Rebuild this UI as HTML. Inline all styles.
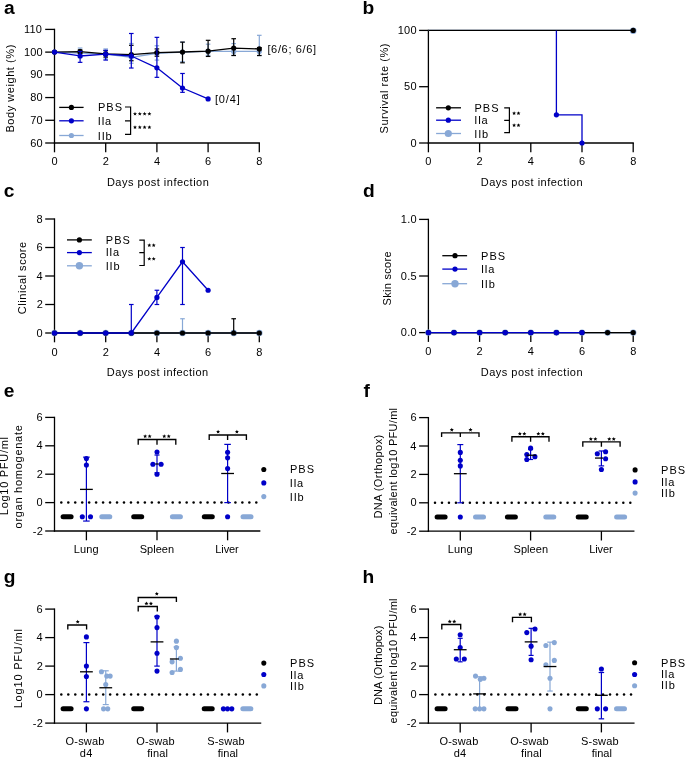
<!DOCTYPE html>
<html><head><meta charset="utf-8"><style>
html,body{margin:0;padding:0;background:#fff;width:685px;height:758px;overflow:hidden}
svg{display:block;will-change:transform}
text{font-family:"Liberation Sans", sans-serif}
</style></head><body>
<svg width="685" height="758" viewBox="0 0 685 758">
<text x="3.94" y="14" font-size="19.2" font-weight="bold">a</text>
<line x1="54.5" y1="28.75" x2="54.5" y2="143.65" stroke="#000" stroke-width="1.3"/>
<line x1="45.2" y1="29.4" x2="54.5" y2="29.4" stroke="#000" stroke-width="1.3"/>
<text x="23.88" y="33.05" font-size="11" letter-spacing="0.2">110</text>
<line x1="45.2" y1="52.12" x2="54.5" y2="52.12" stroke="#000" stroke-width="1.3"/>
<text x="23.88" y="55.77" font-size="11" letter-spacing="0.2">100</text>
<line x1="45.2" y1="74.84" x2="54.5" y2="74.84" stroke="#000" stroke-width="1.3"/>
<text x="30.19" y="78.49" font-size="11" letter-spacing="0.2">90</text>
<line x1="45.2" y1="97.56" x2="54.5" y2="97.56" stroke="#000" stroke-width="1.3"/>
<text x="30.19" y="101.21" font-size="11" letter-spacing="0.2">80</text>
<line x1="45.2" y1="120.28" x2="54.5" y2="120.28" stroke="#000" stroke-width="1.3"/>
<text x="30.19" y="123.93" font-size="11" letter-spacing="0.2">70</text>
<line x1="45.2" y1="143" x2="54.5" y2="143" stroke="#000" stroke-width="1.3"/>
<text x="30.19" y="146.65" font-size="11" letter-spacing="0.2">60</text>
<line x1="53.85" y1="143" x2="259.95" y2="143" stroke="#000" stroke-width="1.3"/>
<line x1="54.5" y1="143" x2="54.5" y2="152.3" stroke="#000" stroke-width="1.3"/>
<text x="51.44" y="164.8" font-size="11" letter-spacing="0.2">0</text>
<line x1="105.7" y1="143" x2="105.7" y2="152.3" stroke="#000" stroke-width="1.3"/>
<text x="102.64" y="164.8" font-size="11" letter-spacing="0.2">2</text>
<line x1="156.9" y1="143" x2="156.9" y2="152.3" stroke="#000" stroke-width="1.3"/>
<text x="153.88" y="164.8" font-size="11" letter-spacing="0.2">4</text>
<line x1="208.1" y1="143" x2="208.1" y2="152.3" stroke="#000" stroke-width="1.3"/>
<text x="205" y="164.8" font-size="11" letter-spacing="0.2">6</text>
<line x1="259.3" y1="143" x2="259.3" y2="152.3" stroke="#000" stroke-width="1.3"/>
<text x="256.24" y="164.8" font-size="11" letter-spacing="0.2">8</text>
<line x1="80.1" y1="48.03" x2="80.1" y2="57.57" stroke="#88a8d6" stroke-width="1.2"/>
<line x1="77.8" y1="48.03" x2="82.4" y2="48.03" stroke="#88a8d6" stroke-width="1.2"/>
<line x1="77.8" y1="57.57" x2="82.4" y2="57.57" stroke="#88a8d6" stroke-width="1.2"/>
<line x1="105.7" y1="48.94" x2="105.7" y2="58.94" stroke="#88a8d6" stroke-width="1.2"/>
<line x1="103.4" y1="48.94" x2="108" y2="48.94" stroke="#88a8d6" stroke-width="1.2"/>
<line x1="103.4" y1="58.94" x2="108" y2="58.94" stroke="#88a8d6" stroke-width="1.2"/>
<line x1="131.3" y1="43.49" x2="131.3" y2="63.25" stroke="#88a8d6" stroke-width="1.2"/>
<line x1="129" y1="43.49" x2="133.6" y2="43.49" stroke="#88a8d6" stroke-width="1.2"/>
<line x1="129" y1="63.25" x2="133.6" y2="63.25" stroke="#88a8d6" stroke-width="1.2"/>
<line x1="156.9" y1="45.76" x2="156.9" y2="60.07" stroke="#88a8d6" stroke-width="1.2"/>
<line x1="154.6" y1="45.76" x2="159.2" y2="45.76" stroke="#88a8d6" stroke-width="1.2"/>
<line x1="154.6" y1="60.07" x2="159.2" y2="60.07" stroke="#88a8d6" stroke-width="1.2"/>
<line x1="182.5" y1="42.12" x2="182.5" y2="61.66" stroke="#88a8d6" stroke-width="1.2"/>
<line x1="180.2" y1="42.12" x2="184.8" y2="42.12" stroke="#88a8d6" stroke-width="1.2"/>
<line x1="180.2" y1="61.66" x2="184.8" y2="61.66" stroke="#88a8d6" stroke-width="1.2"/>
<line x1="208.1" y1="44.17" x2="208.1" y2="55.3" stroke="#88a8d6" stroke-width="1.2"/>
<line x1="205.8" y1="44.17" x2="210.4" y2="44.17" stroke="#88a8d6" stroke-width="1.2"/>
<line x1="205.8" y1="55.3" x2="210.4" y2="55.3" stroke="#88a8d6" stroke-width="1.2"/>
<line x1="233.7" y1="43.6" x2="233.7" y2="55.3" stroke="#88a8d6" stroke-width="1.2"/>
<line x1="231.4" y1="43.6" x2="236" y2="43.6" stroke="#88a8d6" stroke-width="1.2"/>
<line x1="231.4" y1="55.3" x2="236" y2="55.3" stroke="#88a8d6" stroke-width="1.2"/>
<line x1="259.3" y1="35.31" x2="259.3" y2="55.53" stroke="#88a8d6" stroke-width="1.2"/>
<line x1="257" y1="35.31" x2="261.6" y2="35.31" stroke="#88a8d6" stroke-width="1.2"/>
<line x1="257" y1="55.53" x2="261.6" y2="55.53" stroke="#88a8d6" stroke-width="1.2"/>
<polyline points="54.5,52.12 80.1,53.03 105.7,54.16 131.3,57.35 156.9,53.26 182.5,52.12 208.1,51.44 233.7,51.44 259.3,51.44" fill="none" stroke="#88a8d6" stroke-width="1.3" stroke-linejoin="round"/>
<circle cx="54.5" cy="52.12" r="2.6" fill="#88a8d6"/>
<circle cx="80.1" cy="53.03" r="2.6" fill="#88a8d6"/>
<circle cx="105.7" cy="54.16" r="2.6" fill="#88a8d6"/>
<circle cx="131.3" cy="57.35" r="2.6" fill="#88a8d6"/>
<circle cx="156.9" cy="53.26" r="2.6" fill="#88a8d6"/>
<circle cx="182.5" cy="52.12" r="2.6" fill="#88a8d6"/>
<circle cx="208.1" cy="51.44" r="2.6" fill="#88a8d6"/>
<circle cx="233.7" cy="51.44" r="2.6" fill="#88a8d6"/>
<circle cx="259.3" cy="51.44" r="2.6" fill="#88a8d6"/>
<line x1="80.1" y1="49.85" x2="80.1" y2="53.48" stroke="#000" stroke-width="1.2"/>
<line x1="77.8" y1="49.85" x2="82.4" y2="49.85" stroke="#000" stroke-width="1.2"/>
<line x1="77.8" y1="53.48" x2="82.4" y2="53.48" stroke="#000" stroke-width="1.2"/>
<line x1="105.7" y1="50.76" x2="105.7" y2="57.12" stroke="#000" stroke-width="1.2"/>
<line x1="103.4" y1="50.76" x2="108" y2="50.76" stroke="#000" stroke-width="1.2"/>
<line x1="103.4" y1="57.12" x2="108" y2="57.12" stroke="#000" stroke-width="1.2"/>
<line x1="131.3" y1="45.3" x2="131.3" y2="60.75" stroke="#000" stroke-width="1.2"/>
<line x1="129" y1="45.3" x2="133.6" y2="45.3" stroke="#000" stroke-width="1.2"/>
<line x1="129" y1="60.75" x2="133.6" y2="60.75" stroke="#000" stroke-width="1.2"/>
<line x1="156.9" y1="48.94" x2="156.9" y2="56.21" stroke="#000" stroke-width="1.2"/>
<line x1="154.6" y1="48.94" x2="159.2" y2="48.94" stroke="#000" stroke-width="1.2"/>
<line x1="154.6" y1="56.21" x2="159.2" y2="56.21" stroke="#000" stroke-width="1.2"/>
<line x1="182.5" y1="42.12" x2="182.5" y2="62.8" stroke="#000" stroke-width="1.2"/>
<line x1="180.2" y1="42.12" x2="184.8" y2="42.12" stroke="#000" stroke-width="1.2"/>
<line x1="180.2" y1="62.8" x2="184.8" y2="62.8" stroke="#000" stroke-width="1.2"/>
<line x1="208.1" y1="40.31" x2="208.1" y2="56.44" stroke="#000" stroke-width="1.2"/>
<line x1="205.8" y1="40.31" x2="210.4" y2="40.31" stroke="#000" stroke-width="1.2"/>
<line x1="205.8" y1="56.44" x2="210.4" y2="56.44" stroke="#000" stroke-width="1.2"/>
<line x1="233.7" y1="38.72" x2="233.7" y2="55.53" stroke="#000" stroke-width="1.2"/>
<line x1="231.4" y1="38.72" x2="236" y2="38.72" stroke="#000" stroke-width="1.2"/>
<line x1="231.4" y1="55.53" x2="236" y2="55.53" stroke="#000" stroke-width="1.2"/>
<line x1="259.3" y1="47.58" x2="259.3" y2="55.53" stroke="#000" stroke-width="1.2"/>
<line x1="257" y1="47.58" x2="261.6" y2="47.58" stroke="#000" stroke-width="1.2"/>
<line x1="257" y1="55.53" x2="261.6" y2="55.53" stroke="#000" stroke-width="1.2"/>
<polyline points="54.5,52.12 80.1,51.67 105.7,53.94 131.3,54.62 156.9,52.57 182.5,52.01 208.1,51.21 233.7,48.03 259.3,48.94" fill="none" stroke="#000" stroke-width="1.3" stroke-linejoin="round"/>
<circle cx="54.5" cy="52.12" r="2.6" fill="#000"/>
<circle cx="80.1" cy="51.67" r="2.6" fill="#000"/>
<circle cx="105.7" cy="53.94" r="2.6" fill="#000"/>
<circle cx="131.3" cy="54.62" r="2.6" fill="#000"/>
<circle cx="156.9" cy="52.57" r="2.6" fill="#000"/>
<circle cx="182.5" cy="52.01" r="2.6" fill="#000"/>
<circle cx="208.1" cy="51.21" r="2.6" fill="#000"/>
<circle cx="233.7" cy="48.03" r="2.6" fill="#000"/>
<circle cx="259.3" cy="48.94" r="2.6" fill="#000"/>
<line x1="80.1" y1="51.44" x2="80.1" y2="62.34" stroke="#0000c8" stroke-width="1.2"/>
<line x1="77.8" y1="51.44" x2="82.4" y2="51.44" stroke="#0000c8" stroke-width="1.2"/>
<line x1="77.8" y1="62.34" x2="82.4" y2="62.34" stroke="#0000c8" stroke-width="1.2"/>
<line x1="105.7" y1="50.3" x2="105.7" y2="60.07" stroke="#0000c8" stroke-width="1.2"/>
<line x1="103.4" y1="50.3" x2="108" y2="50.3" stroke="#0000c8" stroke-width="1.2"/>
<line x1="103.4" y1="60.07" x2="108" y2="60.07" stroke="#0000c8" stroke-width="1.2"/>
<line x1="131.3" y1="33.49" x2="131.3" y2="68.02" stroke="#0000c8" stroke-width="1.2"/>
<line x1="129" y1="33.49" x2="133.6" y2="33.49" stroke="#0000c8" stroke-width="1.2"/>
<line x1="129" y1="68.02" x2="133.6" y2="68.02" stroke="#0000c8" stroke-width="1.2"/>
<line x1="156.9" y1="37.35" x2="156.9" y2="77.34" stroke="#0000c8" stroke-width="1.2"/>
<line x1="154.6" y1="37.35" x2="159.2" y2="37.35" stroke="#0000c8" stroke-width="1.2"/>
<line x1="154.6" y1="77.34" x2="159.2" y2="77.34" stroke="#0000c8" stroke-width="1.2"/>
<line x1="182.5" y1="73.48" x2="182.5" y2="92.33" stroke="#0000c8" stroke-width="1.2"/>
<line x1="180.2" y1="73.48" x2="184.8" y2="73.48" stroke="#0000c8" stroke-width="1.2"/>
<line x1="180.2" y1="92.33" x2="184.8" y2="92.33" stroke="#0000c8" stroke-width="1.2"/>
<polyline points="54.5,52.12 80.1,55.98 105.7,54.16 131.3,55.98 156.9,67.8 182.5,88.02 208.1,98.92" fill="none" stroke="#0000c8" stroke-width="1.3" stroke-linejoin="round"/>
<circle cx="54.5" cy="52.12" r="2.6" fill="#0000c8"/>
<circle cx="80.1" cy="55.98" r="2.6" fill="#0000c8"/>
<circle cx="105.7" cy="54.16" r="2.6" fill="#0000c8"/>
<circle cx="131.3" cy="55.98" r="2.6" fill="#0000c8"/>
<circle cx="156.9" cy="67.8" r="2.6" fill="#0000c8"/>
<circle cx="182.5" cy="88.02" r="2.6" fill="#0000c8"/>
<circle cx="208.1" cy="98.92" r="2.6" fill="#0000c8"/>
<text x="106.9" y="185.7" font-size="11" letter-spacing="0.5">Days post infection</text>
<text x="14.3" y="132.6" font-size="11" transform="rotate(-90 14.3 132.6)" letter-spacing="0.56">Body weight (%)</text>
<text x="267.42" y="52.7" font-size="11" letter-spacing="0.66">[6/6; 6/6]</text>
<text x="214.92" y="102.7" font-size="11" letter-spacing="0.89">[0/4]</text>
<line x1="59.2" y1="107.4" x2="83.6" y2="107.4" stroke="#000" stroke-width="1.3"/>
<circle cx="71.4" cy="107.4" r="2.6" fill="#000"/>
<line x1="59.2" y1="120.8" x2="83.6" y2="120.8" stroke="#0000c8" stroke-width="1.3"/>
<circle cx="71.4" cy="120.8" r="2.6" fill="#0000c8"/>
<line x1="59.2" y1="135.5" x2="83.6" y2="135.5" stroke="#88a8d6" stroke-width="1.3"/>
<circle cx="71.4" cy="135.5" r="2.6" fill="#88a8d6"/>
<text x="97.9" y="111.3" font-size="11" letter-spacing="1.05">PBS</text>
<text x="97.78" y="124.5" font-size="11" letter-spacing="0.59">IIa</text>
<text x="97.78" y="139.8" font-size="11" letter-spacing="0.82">IIb</text>
<path d="M125,107 H130.6 V134.4 H125 M125,120.8 H130.6" fill="none" stroke="#000" stroke-width="1.2"/>
<polygon points="135,111.8 135.56,113.14 137,113.25 135.9,114.19 136.23,115.6 135,114.84 133.77,115.6 134.1,114.19 133,113.25 134.44,113.14" fill="#000"/>
<polygon points="139.8,111.8 140.36,113.14 141.8,113.25 140.7,114.19 141.03,115.6 139.8,114.84 138.57,115.6 138.9,114.19 137.8,113.25 139.24,113.14" fill="#000"/>
<polygon points="144.6,111.8 145.16,113.14 146.6,113.25 145.5,114.19 145.83,115.6 144.6,114.84 143.37,115.6 143.7,114.19 142.6,113.25 144.04,113.14" fill="#000"/>
<polygon points="149.4,111.8 149.96,113.14 151.4,113.25 150.3,114.19 150.63,115.6 149.4,114.84 148.17,115.6 148.5,114.19 147.4,113.25 148.84,113.14" fill="#000"/>
<polygon points="135,125.2 135.56,126.54 137,126.65 135.9,127.59 136.23,129 135,128.25 133.77,129 134.1,127.59 133,126.65 134.44,126.54" fill="#000"/>
<polygon points="139.8,125.2 140.36,126.54 141.8,126.65 140.7,127.59 141.03,129 139.8,128.25 138.57,129 138.9,127.59 137.8,126.65 139.24,126.54" fill="#000"/>
<polygon points="144.6,125.2 145.16,126.54 146.6,126.65 145.5,127.59 145.83,129 144.6,128.25 143.37,129 143.7,127.59 142.6,126.65 144.04,126.54" fill="#000"/>
<polygon points="149.4,125.2 149.96,126.54 151.4,126.65 150.3,127.59 150.63,129 149.4,128.25 148.17,129 148.5,127.59 147.4,126.65 148.84,126.54" fill="#000"/>
<text x="362.53" y="14" font-size="19.2" font-weight="bold">b</text>
<line x1="428.4" y1="29.75" x2="428.4" y2="143.65" stroke="#000" stroke-width="1.3"/>
<line x1="419.1" y1="30.4" x2="428.4" y2="30.4" stroke="#000" stroke-width="1.3"/>
<text x="397.78" y="34.05" font-size="11" letter-spacing="0.2">100</text>
<line x1="419.1" y1="86.7" x2="428.4" y2="86.7" stroke="#000" stroke-width="1.3"/>
<text x="404.09" y="90.35" font-size="11" letter-spacing="0.2">50</text>
<line x1="419.1" y1="143" x2="428.4" y2="143" stroke="#000" stroke-width="1.3"/>
<text x="410.41" y="146.65" font-size="11" letter-spacing="0.2">0</text>
<line x1="427.75" y1="143" x2="633.85" y2="143" stroke="#000" stroke-width="1.3"/>
<line x1="428.4" y1="143" x2="428.4" y2="152.3" stroke="#000" stroke-width="1.3"/>
<text x="425.34" y="164.8" font-size="11" letter-spacing="0.2">0</text>
<line x1="479.6" y1="143" x2="479.6" y2="152.3" stroke="#000" stroke-width="1.3"/>
<text x="476.54" y="164.8" font-size="11" letter-spacing="0.2">2</text>
<line x1="530.8" y1="143" x2="530.8" y2="152.3" stroke="#000" stroke-width="1.3"/>
<text x="527.78" y="164.8" font-size="11" letter-spacing="0.2">4</text>
<line x1="582" y1="143" x2="582" y2="152.3" stroke="#000" stroke-width="1.3"/>
<text x="578.9" y="164.8" font-size="11" letter-spacing="0.2">6</text>
<line x1="633.2" y1="143" x2="633.2" y2="152.3" stroke="#000" stroke-width="1.3"/>
<text x="630.14" y="164.8" font-size="11" letter-spacing="0.2">8</text>
<line x1="428.4" y1="30.4" x2="633.2" y2="30.4" stroke="#88a8d6" stroke-width="1.3"/>
<circle cx="633.2" cy="30.7" r="3.3" fill="#88a8d6"/>
<line x1="428.4" y1="30.4" x2="633.2" y2="30.4" stroke="#000" stroke-width="1.3"/>
<circle cx="633.2" cy="30.4" r="2.6" fill="#000"/>
<path d="M556.4,30.4 V114.85 H582 V143" fill="none" stroke="#0000c8" stroke-width="1.3"/>
<circle cx="556.4" cy="114.85" r="2.6" fill="#0000c8"/>
<circle cx="582" cy="143" r="2.6" fill="#0000c8"/>
<text x="480.8" y="185.8" font-size="11" letter-spacing="0.49">Days post infection</text>
<text x="388" y="133.4" font-size="11" transform="rotate(-90 388 133.4)" letter-spacing="0.53">Survival rate (%)</text>
<line x1="436.1" y1="107.8" x2="461" y2="107.8" stroke="#000" stroke-width="1.3"/>
<circle cx="448.3" cy="107.8" r="2.6" fill="#000"/>
<line x1="436.1" y1="120.2" x2="461" y2="120.2" stroke="#0000c8" stroke-width="1.3"/>
<circle cx="448.3" cy="120.2" r="2.6" fill="#0000c8"/>
<line x1="436.1" y1="133.5" x2="461" y2="133.5" stroke="#88a8d6" stroke-width="1.3"/>
<circle cx="448.3" cy="133.5" r="3.6" fill="#88a8d6"/>
<text x="474.4" y="111.8" font-size="11" letter-spacing="1.05">PBS</text>
<text x="474.28" y="124.2" font-size="11" letter-spacing="0.59">IIa</text>
<text x="474.28" y="137.5" font-size="11" letter-spacing="0.82">IIb</text>
<path d="M504.2,107.9 H509.4 V132.6 H504.2 M504.2,120.3 H509.4" fill="none" stroke="#000" stroke-width="1.2"/>
<polygon points="514.1,111.2 514.66,112.54 516.1,112.65 515,113.59 515.33,115 514.1,114.24 512.87,115 513.2,113.59 512.1,112.65 513.54,112.54" fill="#000"/>
<polygon points="518.5,111.2 519.06,112.54 520.5,112.65 519.4,113.59 519.73,115 518.5,114.24 517.27,115 517.6,113.59 516.5,112.65 517.94,112.54" fill="#000"/>
<polygon points="514.1,123.2 514.66,124.54 516.1,124.65 515,125.59 515.33,127 514.1,126.24 512.87,127 513.2,125.59 512.1,124.65 513.54,124.54" fill="#000"/>
<polygon points="518.5,123.2 519.06,124.54 520.5,124.65 519.4,125.59 519.73,127 518.5,126.24 517.27,127 517.6,125.59 516.5,124.65 517.94,124.54" fill="#000"/>
<text x="3.75" y="197.2" font-size="19.2" font-weight="bold">c</text>
<line x1="54.5" y1="218.35" x2="54.5" y2="333.65" stroke="#000" stroke-width="1.3"/>
<line x1="45.2" y1="219" x2="54.5" y2="219" stroke="#000" stroke-width="1.3"/>
<text x="36.56" y="222.65" font-size="11" letter-spacing="0.2">8</text>
<line x1="45.2" y1="247.5" x2="54.5" y2="247.5" stroke="#000" stroke-width="1.3"/>
<text x="36.57" y="251.15" font-size="11" letter-spacing="0.2">6</text>
<line x1="45.2" y1="276" x2="54.5" y2="276" stroke="#000" stroke-width="1.3"/>
<text x="36.4" y="279.65" font-size="11" letter-spacing="0.2">4</text>
<line x1="45.2" y1="304.5" x2="54.5" y2="304.5" stroke="#000" stroke-width="1.3"/>
<text x="36.64" y="308.15" font-size="11" letter-spacing="0.2">2</text>
<line x1="45.2" y1="333" x2="54.5" y2="333" stroke="#000" stroke-width="1.3"/>
<text x="36.51" y="336.65" font-size="11" letter-spacing="0.2">0</text>
<line x1="53.85" y1="333" x2="259.95" y2="333" stroke="#000" stroke-width="1.3"/>
<line x1="54.5" y1="333" x2="54.5" y2="342.3" stroke="#000" stroke-width="1.3"/>
<text x="51.44" y="355.5" font-size="11" letter-spacing="0.2">0</text>
<line x1="105.7" y1="333" x2="105.7" y2="342.3" stroke="#000" stroke-width="1.3"/>
<text x="102.64" y="355.5" font-size="11" letter-spacing="0.2">2</text>
<line x1="156.9" y1="333" x2="156.9" y2="342.3" stroke="#000" stroke-width="1.3"/>
<text x="153.88" y="355.5" font-size="11" letter-spacing="0.2">4</text>
<line x1="208.1" y1="333" x2="208.1" y2="342.3" stroke="#000" stroke-width="1.3"/>
<text x="205" y="355.5" font-size="11" letter-spacing="0.2">6</text>
<line x1="259.3" y1="333" x2="259.3" y2="342.3" stroke="#000" stroke-width="1.3"/>
<text x="256.24" y="355.5" font-size="11" letter-spacing="0.2">8</text>
<line x1="182.5" y1="318.75" x2="182.5" y2="333" stroke="#88a8d6" stroke-width="1.2"/>
<line x1="180.2" y1="318.75" x2="184.8" y2="318.75" stroke="#88a8d6" stroke-width="1.2"/>
<line x1="54.5" y1="333" x2="259.3" y2="333" stroke="#88a8d6" stroke-width="1.3"/>
<circle cx="54.5" cy="333" r="3.2" fill="#88a8d6"/>
<circle cx="80.1" cy="333" r="3.2" fill="#88a8d6"/>
<circle cx="105.7" cy="333" r="3.2" fill="#88a8d6"/>
<circle cx="131.3" cy="333" r="3.2" fill="#88a8d6"/>
<circle cx="156.9" cy="333" r="3.2" fill="#88a8d6"/>
<circle cx="182.5" cy="333" r="3.2" fill="#88a8d6"/>
<circle cx="208.1" cy="333" r="3.2" fill="#88a8d6"/>
<circle cx="233.7" cy="333" r="3.2" fill="#88a8d6"/>
<circle cx="259.3" cy="333" r="3.2" fill="#88a8d6"/>
<line x1="233.7" y1="318.75" x2="233.7" y2="333" stroke="#000" stroke-width="1.2"/>
<line x1="231.4" y1="318.75" x2="236" y2="318.75" stroke="#000" stroke-width="1.2"/>
<line x1="54.5" y1="333" x2="259.3" y2="333" stroke="#000" stroke-width="1.3"/>
<circle cx="54.5" cy="333" r="2.6" fill="#000"/>
<circle cx="80.1" cy="333" r="2.6" fill="#000"/>
<circle cx="105.7" cy="333" r="2.6" fill="#000"/>
<circle cx="131.3" cy="333" r="2.6" fill="#000"/>
<circle cx="156.9" cy="333" r="2.6" fill="#000"/>
<circle cx="182.5" cy="333" r="2.6" fill="#000"/>
<circle cx="208.1" cy="333" r="2.6" fill="#000"/>
<circle cx="233.7" cy="333" r="2.6" fill="#000"/>
<circle cx="259.3" cy="333" r="2.6" fill="#000"/>
<line x1="131.3" y1="304.5" x2="131.3" y2="333" stroke="#0000c8" stroke-width="1.2"/>
<line x1="129" y1="304.5" x2="133.6" y2="304.5" stroke="#0000c8" stroke-width="1.2"/>
<line x1="156.9" y1="290.25" x2="156.9" y2="304.5" stroke="#0000c8" stroke-width="1.2"/>
<line x1="154.6" y1="290.25" x2="159.2" y2="290.25" stroke="#0000c8" stroke-width="1.2"/>
<line x1="154.6" y1="304.5" x2="159.2" y2="304.5" stroke="#0000c8" stroke-width="1.2"/>
<line x1="182.5" y1="247.5" x2="182.5" y2="304.5" stroke="#0000c8" stroke-width="1.2"/>
<line x1="180.2" y1="247.5" x2="184.8" y2="247.5" stroke="#0000c8" stroke-width="1.2"/>
<line x1="180.2" y1="304.5" x2="184.8" y2="304.5" stroke="#0000c8" stroke-width="1.2"/>
<polyline points="54.5,333 80.1,333 105.7,333 131.3,333 156.9,297.38 182.5,261.75 208.1,290.25" fill="none" stroke="#0000c8" stroke-width="1.3" stroke-linejoin="round"/>
<circle cx="54.5" cy="333" r="2.6" fill="#0000c8"/>
<circle cx="80.1" cy="333" r="2.6" fill="#0000c8"/>
<circle cx="105.7" cy="333" r="2.6" fill="#0000c8"/>
<circle cx="131.3" cy="333" r="2.6" fill="#0000c8"/>
<circle cx="156.9" cy="297.38" r="2.6" fill="#0000c8"/>
<circle cx="182.5" cy="261.75" r="2.6" fill="#0000c8"/>
<circle cx="208.1" cy="290.25" r="2.6" fill="#0000c8"/>
<text x="106.8" y="375.9" font-size="11" letter-spacing="0.47">Days post infection</text>
<text x="25.6" y="314.16" font-size="11" transform="rotate(-90 25.6 314.16)" letter-spacing="0.53">Clinical score</text>
<line x1="67" y1="239.9" x2="91.8" y2="239.9" stroke="#000" stroke-width="1.3"/>
<circle cx="79.4" cy="239.9" r="2.6" fill="#000"/>
<line x1="67" y1="252.6" x2="91.8" y2="252.6" stroke="#0000c8" stroke-width="1.3"/>
<circle cx="79.4" cy="252.6" r="2.6" fill="#0000c8"/>
<line x1="67" y1="265.8" x2="91.8" y2="265.8" stroke="#88a8d6" stroke-width="1.3"/>
<circle cx="79.4" cy="265.8" r="3.7" fill="#88a8d6"/>
<text x="105.8" y="243.6" font-size="11" letter-spacing="1.05">PBS</text>
<text x="105.68" y="256.4" font-size="11" letter-spacing="0.59">IIa</text>
<text x="105.68" y="269.6" font-size="11" letter-spacing="0.82">IIb</text>
<path d="M139.3,240.2 H144.2 V265.5 H139.3 M139.3,252.6 H144.2" fill="none" stroke="#000" stroke-width="1.2"/>
<polygon points="149.3,243.2 149.86,244.54 151.3,244.65 150.2,245.59 150.53,247 149.3,246.25 148.07,247 148.4,245.59 147.3,244.65 148.74,244.54" fill="#000"/>
<polygon points="153.7,243.2 154.26,244.54 155.7,244.65 154.6,245.59 154.93,247 153.7,246.25 152.47,247 152.8,245.59 151.7,244.65 153.14,244.54" fill="#000"/>
<polygon points="149.3,256.8 149.86,258.14 151.3,258.25 150.2,259.19 150.53,260.6 149.3,259.84 148.07,260.6 148.4,259.19 147.3,258.25 148.74,258.14" fill="#000"/>
<polygon points="153.7,256.8 154.26,258.14 155.7,258.25 154.6,259.19 154.93,260.6 153.7,259.84 152.47,260.6 152.8,259.19 151.7,258.25 153.14,258.14" fill="#000"/>
<text x="363.01" y="197.4" font-size="19.2" font-weight="bold">d</text>
<line x1="428.4" y1="218.75" x2="428.4" y2="333.25" stroke="#000" stroke-width="1.3"/>
<line x1="419.1" y1="219.4" x2="428.4" y2="219.4" stroke="#000" stroke-width="1.3"/>
<text x="400.84" y="223.05" font-size="11" letter-spacing="0.2">1.0</text>
<line x1="419.1" y1="276" x2="428.4" y2="276" stroke="#000" stroke-width="1.3"/>
<text x="400.87" y="279.65" font-size="11" letter-spacing="0.2">0.5</text>
<line x1="419.1" y1="332.6" x2="428.4" y2="332.6" stroke="#000" stroke-width="1.3"/>
<text x="400.84" y="336.25" font-size="11" letter-spacing="0.2">0.0</text>
<line x1="427.75" y1="332.6" x2="633.85" y2="332.6" stroke="#000" stroke-width="1.3"/>
<line x1="428.4" y1="332.6" x2="428.4" y2="341.9" stroke="#000" stroke-width="1.3"/>
<text x="425.34" y="354.7" font-size="11" letter-spacing="0.2">0</text>
<line x1="479.6" y1="332.6" x2="479.6" y2="341.9" stroke="#000" stroke-width="1.3"/>
<text x="476.54" y="354.7" font-size="11" letter-spacing="0.2">2</text>
<line x1="530.8" y1="332.6" x2="530.8" y2="341.9" stroke="#000" stroke-width="1.3"/>
<text x="527.78" y="354.7" font-size="11" letter-spacing="0.2">4</text>
<line x1="582" y1="332.6" x2="582" y2="341.9" stroke="#000" stroke-width="1.3"/>
<text x="578.9" y="354.7" font-size="11" letter-spacing="0.2">6</text>
<line x1="633.2" y1="332.6" x2="633.2" y2="341.9" stroke="#000" stroke-width="1.3"/>
<text x="630.14" y="354.7" font-size="11" letter-spacing="0.2">8</text>
<line x1="428.4" y1="332.6" x2="633.2" y2="332.6" stroke="#88a8d6" stroke-width="1.3"/>
<circle cx="428.4" cy="332.6" r="3.2" fill="#88a8d6"/>
<circle cx="454" cy="332.6" r="3.2" fill="#88a8d6"/>
<circle cx="479.6" cy="332.6" r="3.2" fill="#88a8d6"/>
<circle cx="505.2" cy="332.6" r="3.2" fill="#88a8d6"/>
<circle cx="530.8" cy="332.6" r="3.2" fill="#88a8d6"/>
<circle cx="556.4" cy="332.6" r="3.2" fill="#88a8d6"/>
<circle cx="582" cy="332.6" r="3.2" fill="#88a8d6"/>
<circle cx="607.6" cy="332.6" r="3.2" fill="#88a8d6"/>
<circle cx="633.2" cy="332.6" r="3.2" fill="#88a8d6"/>
<line x1="428.4" y1="332.6" x2="633.2" y2="332.6" stroke="#000" stroke-width="1.3"/>
<circle cx="428.4" cy="332.6" r="2.6" fill="#000"/>
<circle cx="454" cy="332.6" r="2.6" fill="#000"/>
<circle cx="479.6" cy="332.6" r="2.6" fill="#000"/>
<circle cx="505.2" cy="332.6" r="2.6" fill="#000"/>
<circle cx="530.8" cy="332.6" r="2.6" fill="#000"/>
<circle cx="556.4" cy="332.6" r="2.6" fill="#000"/>
<circle cx="582" cy="332.6" r="2.6" fill="#000"/>
<circle cx="607.6" cy="332.6" r="2.6" fill="#000"/>
<circle cx="633.2" cy="332.6" r="2.6" fill="#000"/>
<line x1="428.4" y1="332.6" x2="582" y2="332.6" stroke="#0000c8" stroke-width="1.3"/>
<circle cx="428.4" cy="332.6" r="2.6" fill="#0000c8"/>
<circle cx="454" cy="332.6" r="2.6" fill="#0000c8"/>
<circle cx="479.6" cy="332.6" r="2.6" fill="#0000c8"/>
<circle cx="505.2" cy="332.6" r="2.6" fill="#0000c8"/>
<circle cx="530.8" cy="332.6" r="2.6" fill="#0000c8"/>
<circle cx="556.4" cy="332.6" r="2.6" fill="#0000c8"/>
<circle cx="582" cy="332.6" r="2.6" fill="#0000c8"/>
<text x="480.8" y="375.9" font-size="11" letter-spacing="0.49">Days post infection</text>
<text x="390.5" y="305.5" font-size="11" transform="rotate(-90 390.5 305.5)" letter-spacing="0.3">Skin score</text>
<line x1="442.3" y1="255.7" x2="467.1" y2="255.7" stroke="#000" stroke-width="1.3"/>
<circle cx="455" cy="255.7" r="2.6" fill="#000"/>
<line x1="442.3" y1="269.1" x2="467.1" y2="269.1" stroke="#0000c8" stroke-width="1.3"/>
<circle cx="455" cy="269.1" r="2.6" fill="#0000c8"/>
<line x1="442.3" y1="283.7" x2="467.1" y2="283.7" stroke="#88a8d6" stroke-width="1.3"/>
<circle cx="455" cy="283.7" r="3.7" fill="#88a8d6"/>
<text x="481.1" y="259.9" font-size="11" letter-spacing="1.05">PBS</text>
<text x="480.98" y="273.2" font-size="11" letter-spacing="0.59">IIa</text>
<text x="480.98" y="287.6" font-size="11" letter-spacing="0.82">IIb</text>
<text x="3.75" y="396.8" font-size="19.2" font-weight="bold">e</text>
<line x1="54.5" y1="416.75" x2="54.5" y2="531.65" stroke="#000" stroke-width="1.3"/>
<line x1="45.2" y1="417.4" x2="54.5" y2="417.4" stroke="#000" stroke-width="1.3"/>
<text x="36.57" y="421.05" font-size="11" letter-spacing="0.2">6</text>
<line x1="45.2" y1="445.8" x2="54.5" y2="445.8" stroke="#000" stroke-width="1.3"/>
<text x="36.4" y="449.45" font-size="11" letter-spacing="0.2">4</text>
<line x1="45.2" y1="474.2" x2="54.5" y2="474.2" stroke="#000" stroke-width="1.3"/>
<text x="36.64" y="477.85" font-size="11" letter-spacing="0.2">2</text>
<line x1="45.2" y1="502.6" x2="54.5" y2="502.6" stroke="#000" stroke-width="1.3"/>
<text x="36.51" y="506.25" font-size="11" letter-spacing="0.2">0</text>
<line x1="45.2" y1="531" x2="54.5" y2="531" stroke="#000" stroke-width="1.3"/>
<text x="32.77" y="534.65" font-size="11" letter-spacing="0.2">-2</text>
<line x1="53.85" y1="531" x2="260.35" y2="531" stroke="#000" stroke-width="1.3"/>
<line x1="86.4" y1="531" x2="86.4" y2="540.3" stroke="#000" stroke-width="1.3"/>
<line x1="157" y1="531" x2="157" y2="540.3" stroke="#000" stroke-width="1.3"/>
<line x1="227.6" y1="531" x2="227.6" y2="540.3" stroke="#000" stroke-width="1.3"/>
<circle cx="61.3" cy="502.6" r="1.25" fill="#000"/>
<circle cx="68.26" cy="502.6" r="1.25" fill="#000"/>
<circle cx="75.23" cy="502.6" r="1.25" fill="#000"/>
<circle cx="82.19" cy="502.6" r="1.25" fill="#000"/>
<circle cx="89.16" cy="502.6" r="1.25" fill="#000"/>
<circle cx="96.12" cy="502.6" r="1.25" fill="#000"/>
<circle cx="103.09" cy="502.6" r="1.25" fill="#000"/>
<circle cx="110.05" cy="502.6" r="1.25" fill="#000"/>
<circle cx="117.01" cy="502.6" r="1.25" fill="#000"/>
<circle cx="123.98" cy="502.6" r="1.25" fill="#000"/>
<circle cx="130.94" cy="502.6" r="1.25" fill="#000"/>
<circle cx="137.91" cy="502.6" r="1.25" fill="#000"/>
<circle cx="144.87" cy="502.6" r="1.25" fill="#000"/>
<circle cx="151.84" cy="502.6" r="1.25" fill="#000"/>
<circle cx="158.8" cy="502.6" r="1.25" fill="#000"/>
<circle cx="165.76" cy="502.6" r="1.25" fill="#000"/>
<circle cx="172.73" cy="502.6" r="1.25" fill="#000"/>
<circle cx="179.69" cy="502.6" r="1.25" fill="#000"/>
<circle cx="186.66" cy="502.6" r="1.25" fill="#000"/>
<circle cx="193.62" cy="502.6" r="1.25" fill="#000"/>
<circle cx="200.59" cy="502.6" r="1.25" fill="#000"/>
<circle cx="207.55" cy="502.6" r="1.25" fill="#000"/>
<circle cx="214.51" cy="502.6" r="1.25" fill="#000"/>
<circle cx="221.48" cy="502.6" r="1.25" fill="#000"/>
<circle cx="228.44" cy="502.6" r="1.25" fill="#000"/>
<circle cx="235.41" cy="502.6" r="1.25" fill="#000"/>
<circle cx="242.37" cy="502.6" r="1.25" fill="#000"/>
<circle cx="249.34" cy="502.6" r="1.25" fill="#000"/>
<circle cx="256.3" cy="502.6" r="1.25" fill="#000"/>
<line x1="63.1" y1="516.8" x2="71.1" y2="516.8" stroke="#000" stroke-width="5" stroke-linecap="round"/>
<line x1="101.8" y1="516.8" x2="109.8" y2="516.8" stroke="#88a8d6" stroke-width="5" stroke-linecap="round"/>
<line x1="133.7" y1="516.8" x2="141.7" y2="516.8" stroke="#000" stroke-width="5" stroke-linecap="round"/>
<line x1="172.4" y1="516.8" x2="180.4" y2="516.8" stroke="#88a8d6" stroke-width="5" stroke-linecap="round"/>
<line x1="204.3" y1="516.8" x2="212.3" y2="516.8" stroke="#000" stroke-width="5" stroke-linecap="round"/>
<line x1="243" y1="516.8" x2="251" y2="516.8" stroke="#88a8d6" stroke-width="5" stroke-linecap="round"/>
<line x1="86.4" y1="457.16" x2="86.4" y2="521.06" stroke="#0000c8" stroke-width="1.2"/>
<line x1="83.1" y1="457.16" x2="89.7" y2="457.16" stroke="#0000c8" stroke-width="1.2"/>
<line x1="83.1" y1="521.06" x2="89.7" y2="521.06" stroke="#0000c8" stroke-width="1.2"/>
<circle cx="82.3" cy="516.8" r="2.55" fill="#0000c8"/>
<circle cx="90.5" cy="516.8" r="2.55" fill="#0000c8"/>
<circle cx="86.4" cy="458.58" r="2.55" fill="#0000c8"/>
<circle cx="86.4" cy="464.97" r="2.55" fill="#0000c8"/>
<line x1="80" y1="489.39" x2="92.8" y2="489.39" stroke="#000" stroke-width="1.3"/>
<line x1="157" y1="455.03" x2="157" y2="472.78" stroke="#0000c8" stroke-width="1.2"/>
<line x1="154.5" y1="455.03" x2="159.5" y2="455.03" stroke="#0000c8" stroke-width="1.2"/>
<line x1="154.5" y1="472.78" x2="159.5" y2="472.78" stroke="#0000c8" stroke-width="1.2"/>
<circle cx="157" cy="452.05" r="2.55" fill="#0000c8"/>
<circle cx="152.9" cy="464.26" r="2.55" fill="#0000c8"/>
<circle cx="161.1" cy="464.26" r="2.55" fill="#0000c8"/>
<circle cx="157" cy="474.2" r="2.55" fill="#0000c8"/>
<line x1="155.4" y1="463.98" x2="158.6" y2="463.98" stroke="#000" stroke-width="1.3"/>
<line x1="227.6" y1="444.38" x2="227.6" y2="502.6" stroke="#0000c8" stroke-width="1.2"/>
<line x1="224.3" y1="444.38" x2="230.9" y2="444.38" stroke="#0000c8" stroke-width="1.2"/>
<line x1="224.3" y1="502.6" x2="230.9" y2="502.6" stroke="#0000c8" stroke-width="1.2"/>
<circle cx="227.6" cy="452.19" r="2.55" fill="#0000c8"/>
<circle cx="227.6" cy="457.87" r="2.55" fill="#0000c8"/>
<circle cx="227.6" cy="468.52" r="2.55" fill="#0000c8"/>
<circle cx="227.6" cy="516.8" r="2.55" fill="#0000c8"/>
<line x1="221.2" y1="473.49" x2="234" y2="473.49" stroke="#000" stroke-width="1.3"/>
<path d="M138.2,444.8 V439.5 H175.8 V444.8 M157,439.5 V444.8" fill="none" stroke="#000" stroke-width="1.35"/>
<polygon points="145.15,434.15 145.72,435.52 147.19,435.64 146.07,436.6 146.41,438.04 145.15,437.27 143.89,438.04 144.23,436.6 143.11,435.64 144.58,435.52" fill="#000"/>
<polygon points="149.65,434.15 150.22,435.52 151.69,435.64 150.57,436.6 150.91,438.04 149.65,437.27 148.39,438.04 148.73,436.6 147.61,435.64 149.08,435.52" fill="#000"/>
<polygon points="164.25,434.15 164.82,435.52 166.29,435.64 165.17,436.6 165.51,438.04 164.25,437.27 162.99,438.04 163.33,436.6 162.21,435.64 163.68,435.52" fill="#000"/>
<polygon points="168.75,434.15 169.32,435.52 170.79,435.64 169.67,436.6 170.01,438.04 168.75,437.27 167.49,438.04 167.83,436.6 166.71,435.64 168.18,435.52" fill="#000"/>
<path d="M209.2,440 V435 H246.4 V440 M227.6,435 V440" fill="none" stroke="#000" stroke-width="1.35"/>
<polygon points="218.1,429.65 218.67,431.02 220.14,431.14 219.02,432.1 219.36,433.54 218.1,432.77 216.84,433.54 217.18,432.1 216.06,431.14 217.53,431.02" fill="#000"/>
<polygon points="236.9,429.65 237.47,431.02 238.94,431.14 237.82,432.1 238.16,433.54 236.9,432.77 235.64,433.54 235.98,432.1 234.86,431.14 236.33,431.02" fill="#000"/>
<text x="73.8" y="552.6" font-size="11" letter-spacing="0.15">Lung</text>
<text x="139.7" y="552.6" font-size="11" letter-spacing="0.03">Spleen</text>
<text x="215.3" y="552.6" font-size="11" letter-spacing="-0.09">Liver</text>
<text x="8.3" y="515.2" font-size="11" transform="rotate(-90 8.3 515.2)" letter-spacing="0.72">Log10 PFU/ml</text>
<text x="22.2" y="528.46" font-size="11" transform="rotate(-90 22.2 528.46)" letter-spacing="0.73">organ homogenate</text>
<circle cx="263.8" cy="469.5" r="2.55" fill="#000"/>
<circle cx="263.8" cy="482.9" r="2.55" fill="#0000c8"/>
<circle cx="263.8" cy="496.6" r="2.55" fill="#88a8d6"/>
<text x="289.9" y="473.1" font-size="11" letter-spacing="1.05">PBS</text>
<text x="289.78" y="486.6" font-size="11" letter-spacing="0.59">IIa</text>
<text x="289.78" y="500.8" font-size="11" letter-spacing="0.82">IIb</text>
<text x="363.47" y="396.8" font-size="19.2" font-weight="bold">f</text>
<line x1="428.4" y1="416.95" x2="428.4" y2="531.85" stroke="#000" stroke-width="1.3"/>
<line x1="419.1" y1="417.6" x2="428.4" y2="417.6" stroke="#000" stroke-width="1.3"/>
<text x="410.47" y="421.25" font-size="11" letter-spacing="0.2">6</text>
<line x1="419.1" y1="446" x2="428.4" y2="446" stroke="#000" stroke-width="1.3"/>
<text x="410.3" y="449.65" font-size="11" letter-spacing="0.2">4</text>
<line x1="419.1" y1="474.4" x2="428.4" y2="474.4" stroke="#000" stroke-width="1.3"/>
<text x="410.54" y="478.05" font-size="11" letter-spacing="0.2">2</text>
<line x1="419.1" y1="502.8" x2="428.4" y2="502.8" stroke="#000" stroke-width="1.3"/>
<text x="410.41" y="506.45" font-size="11" letter-spacing="0.2">0</text>
<line x1="419.1" y1="531.2" x2="428.4" y2="531.2" stroke="#000" stroke-width="1.3"/>
<text x="406.67" y="534.85" font-size="11" letter-spacing="0.2">-2</text>
<line x1="427.75" y1="531.2" x2="634.45" y2="531.2" stroke="#000" stroke-width="1.3"/>
<line x1="460.3" y1="531.2" x2="460.3" y2="540.5" stroke="#000" stroke-width="1.3"/>
<line x1="530.6" y1="531.2" x2="530.6" y2="540.5" stroke="#000" stroke-width="1.3"/>
<line x1="601.4" y1="531.2" x2="601.4" y2="540.5" stroke="#000" stroke-width="1.3"/>
<circle cx="435" cy="502.8" r="1.25" fill="#000"/>
<circle cx="441.98" cy="502.8" r="1.25" fill="#000"/>
<circle cx="448.95" cy="502.8" r="1.25" fill="#000"/>
<circle cx="455.93" cy="502.8" r="1.25" fill="#000"/>
<circle cx="462.9" cy="502.8" r="1.25" fill="#000"/>
<circle cx="469.88" cy="502.8" r="1.25" fill="#000"/>
<circle cx="476.85" cy="502.8" r="1.25" fill="#000"/>
<circle cx="483.82" cy="502.8" r="1.25" fill="#000"/>
<circle cx="490.8" cy="502.8" r="1.25" fill="#000"/>
<circle cx="497.77" cy="502.8" r="1.25" fill="#000"/>
<circle cx="504.75" cy="502.8" r="1.25" fill="#000"/>
<circle cx="511.72" cy="502.8" r="1.25" fill="#000"/>
<circle cx="518.7" cy="502.8" r="1.25" fill="#000"/>
<circle cx="525.67" cy="502.8" r="1.25" fill="#000"/>
<circle cx="532.65" cy="502.8" r="1.25" fill="#000"/>
<circle cx="539.62" cy="502.8" r="1.25" fill="#000"/>
<circle cx="546.6" cy="502.8" r="1.25" fill="#000"/>
<circle cx="553.57" cy="502.8" r="1.25" fill="#000"/>
<circle cx="560.55" cy="502.8" r="1.25" fill="#000"/>
<circle cx="567.52" cy="502.8" r="1.25" fill="#000"/>
<circle cx="574.5" cy="502.8" r="1.25" fill="#000"/>
<circle cx="581.47" cy="502.8" r="1.25" fill="#000"/>
<circle cx="588.45" cy="502.8" r="1.25" fill="#000"/>
<circle cx="595.42" cy="502.8" r="1.25" fill="#000"/>
<circle cx="602.4" cy="502.8" r="1.25" fill="#000"/>
<circle cx="609.38" cy="502.8" r="1.25" fill="#000"/>
<circle cx="616.35" cy="502.8" r="1.25" fill="#000"/>
<circle cx="623.32" cy="502.8" r="1.25" fill="#000"/>
<circle cx="630.3" cy="502.8" r="1.25" fill="#000"/>
<line x1="437.1" y1="517" x2="445.1" y2="517" stroke="#000" stroke-width="5" stroke-linecap="round"/>
<line x1="475.5" y1="517" x2="483.5" y2="517" stroke="#88a8d6" stroke-width="5" stroke-linecap="round"/>
<line x1="507.4" y1="517" x2="515.4" y2="517" stroke="#000" stroke-width="5" stroke-linecap="round"/>
<line x1="545.8" y1="517" x2="553.8" y2="517" stroke="#88a8d6" stroke-width="5" stroke-linecap="round"/>
<line x1="578.2" y1="517" x2="586.2" y2="517" stroke="#000" stroke-width="5" stroke-linecap="round"/>
<line x1="616.6" y1="517" x2="624.6" y2="517" stroke="#88a8d6" stroke-width="5" stroke-linecap="round"/>
<line x1="460.3" y1="444.58" x2="460.3" y2="502.8" stroke="#0000c8" stroke-width="1.2"/>
<line x1="457.3" y1="444.58" x2="463.3" y2="444.58" stroke="#0000c8" stroke-width="1.2"/>
<line x1="457.3" y1="502.8" x2="463.3" y2="502.8" stroke="#0000c8" stroke-width="1.2"/>
<circle cx="460.3" cy="452.39" r="2.55" fill="#0000c8"/>
<circle cx="460.3" cy="460.2" r="2.55" fill="#0000c8"/>
<circle cx="460.3" cy="465.88" r="2.55" fill="#0000c8"/>
<circle cx="460.3" cy="517" r="2.55" fill="#0000c8"/>
<line x1="453.9" y1="473.69" x2="466.7" y2="473.69" stroke="#000" stroke-width="1.3"/>
<line x1="530.6" y1="449.55" x2="530.6" y2="459.49" stroke="#0000c8" stroke-width="1.2"/>
<line x1="528.1" y1="449.55" x2="533.1" y2="449.55" stroke="#0000c8" stroke-width="1.2"/>
<line x1="528.1" y1="459.49" x2="533.1" y2="459.49" stroke="#0000c8" stroke-width="1.2"/>
<circle cx="530.6" cy="448.13" r="2.55" fill="#0000c8"/>
<circle cx="526.8" cy="454.52" r="2.55" fill="#0000c8"/>
<circle cx="534.9" cy="456.65" r="2.55" fill="#0000c8"/>
<circle cx="526.8" cy="459.49" r="2.55" fill="#0000c8"/>
<line x1="526.6" y1="455.23" x2="536.2" y2="455.23" stroke="#000" stroke-width="1.3"/>
<line x1="601.4" y1="450.97" x2="601.4" y2="465.88" stroke="#0000c8" stroke-width="1.2"/>
<line x1="598.65" y1="450.97" x2="604.15" y2="450.97" stroke="#0000c8" stroke-width="1.2"/>
<line x1="598.65" y1="465.88" x2="604.15" y2="465.88" stroke="#0000c8" stroke-width="1.2"/>
<circle cx="605.6" cy="451.68" r="2.55" fill="#0000c8"/>
<circle cx="597.3" cy="453.81" r="2.55" fill="#0000c8"/>
<circle cx="605.6" cy="458.78" r="2.55" fill="#0000c8"/>
<circle cx="601.4" cy="469.43" r="2.55" fill="#0000c8"/>
<line x1="595" y1="458.07" x2="603" y2="458.07" stroke="#000" stroke-width="1.3"/>
<path d="M441.6,437.1 V432.8 H479 V437.1 M460.3,432.8 V437.1" fill="none" stroke="#000" stroke-width="1.35"/>
<polygon points="451.8,427.75 452.37,429.12 453.84,429.24 452.72,430.2 453.06,431.64 451.8,430.87 450.54,431.64 450.88,430.2 449.76,429.24 451.23,429.12" fill="#000"/>
<polygon points="470.5,427.75 471.07,429.12 472.54,429.24 471.42,430.2 471.76,431.64 470.5,430.87 469.24,431.64 469.58,430.2 468.46,429.24 469.93,429.12" fill="#000"/>
<path d="M511.9,441.8 V436.7 H549 V441.8 M530.6,436.7 V441.8" fill="none" stroke="#000" stroke-width="1.35"/>
<polygon points="519.85,431.65 520.42,433.02 521.89,433.14 520.77,434.1 521.11,435.54 519.85,434.77 518.59,435.54 518.93,434.1 517.81,433.14 519.28,433.02" fill="#000"/>
<polygon points="524.35,431.65 524.92,433.02 526.39,433.14 525.27,434.1 525.61,435.54 524.35,434.77 523.09,435.54 523.43,434.1 522.31,433.14 523.78,433.02" fill="#000"/>
<polygon points="538.35,431.65 538.92,433.02 540.39,433.14 539.27,434.1 539.61,435.54 538.35,434.77 537.09,435.54 537.43,434.1 536.31,433.14 537.78,433.02" fill="#000"/>
<polygon points="542.85,431.65 543.42,433.02 544.89,433.14 543.77,434.1 544.11,435.54 542.85,434.77 541.59,435.54 541.93,434.1 540.81,433.14 542.28,433.02" fill="#000"/>
<path d="M582.8,446.8 V441.8 H620.1 V446.8 M601.4,441.8 V446.8" fill="none" stroke="#000" stroke-width="1.35"/>
<polygon points="590.85,436.95 591.42,438.32 592.89,438.44 591.77,439.4 592.11,440.84 590.85,440.07 589.59,440.84 589.93,439.4 588.81,438.44 590.28,438.32" fill="#000"/>
<polygon points="595.35,436.95 595.92,438.32 597.39,438.44 596.27,439.4 596.61,440.84 595.35,440.07 594.09,440.84 594.43,439.4 593.31,438.44 594.78,438.32" fill="#000"/>
<polygon points="609.25,436.95 609.82,438.32 611.29,438.44 610.17,439.4 610.51,440.84 609.25,440.07 607.99,440.84 608.33,439.4 607.21,438.44 608.68,438.32" fill="#000"/>
<polygon points="613.75,436.95 614.32,438.32 615.79,438.44 614.67,439.4 615.01,440.84 613.75,440.07 612.49,440.84 612.83,439.4 611.71,438.44 613.18,438.32" fill="#000"/>
<text x="447.7" y="552.6" font-size="11" letter-spacing="0.15">Lung</text>
<text x="513.6" y="552.6" font-size="11" letter-spacing="0.03">Spleen</text>
<text x="589.2" y="552.6" font-size="11" letter-spacing="-0.09">Liver</text>
<text x="382.2" y="518.6" font-size="11" transform="rotate(-90 382.2 518.6)" letter-spacing="0.43">DNA (Orthopox)</text>
<text x="396.6" y="534.37" font-size="11" transform="rotate(-90 396.6 534.37)" letter-spacing="0.3">equivalent log10 PFU/ml</text>
<circle cx="635.1" cy="469.9" r="2.55" fill="#000"/>
<circle cx="635.1" cy="481.9" r="2.55" fill="#0000c8"/>
<circle cx="635.1" cy="493.1" r="2.55" fill="#88a8d6"/>
<text x="661.1" y="473.5" font-size="11" letter-spacing="1.05">PBS</text>
<text x="660.98" y="485.7" font-size="11" letter-spacing="0.59">IIa</text>
<text x="660.98" y="496.9" font-size="11" letter-spacing="0.82">IIb</text>
<text x="3.71" y="582.7" font-size="19.2" font-weight="bold">g</text>
<line x1="54.5" y1="608.45" x2="54.5" y2="723.75" stroke="#000" stroke-width="1.3"/>
<line x1="45.2" y1="609.1" x2="54.5" y2="609.1" stroke="#000" stroke-width="1.3"/>
<text x="36.57" y="612.75" font-size="11" letter-spacing="0.2">6</text>
<line x1="45.2" y1="637.6" x2="54.5" y2="637.6" stroke="#000" stroke-width="1.3"/>
<text x="36.4" y="641.25" font-size="11" letter-spacing="0.2">4</text>
<line x1="45.2" y1="666.1" x2="54.5" y2="666.1" stroke="#000" stroke-width="1.3"/>
<text x="36.64" y="669.75" font-size="11" letter-spacing="0.2">2</text>
<line x1="45.2" y1="694.6" x2="54.5" y2="694.6" stroke="#000" stroke-width="1.3"/>
<text x="36.51" y="698.25" font-size="11" letter-spacing="0.2">0</text>
<line x1="45.2" y1="723.1" x2="54.5" y2="723.1" stroke="#000" stroke-width="1.3"/>
<text x="32.77" y="726.75" font-size="11" letter-spacing="0.2">-2</text>
<line x1="53.85" y1="723.1" x2="261.25" y2="723.1" stroke="#000" stroke-width="1.3"/>
<line x1="86.4" y1="723.1" x2="86.4" y2="732.4" stroke="#000" stroke-width="1.3"/>
<line x1="157" y1="723.1" x2="157" y2="732.4" stroke="#000" stroke-width="1.3"/>
<line x1="227.5" y1="723.1" x2="227.5" y2="732.4" stroke="#000" stroke-width="1.3"/>
<circle cx="61.3" cy="694.6" r="1.25" fill="#000"/>
<circle cx="68.28" cy="694.6" r="1.25" fill="#000"/>
<circle cx="75.26" cy="694.6" r="1.25" fill="#000"/>
<circle cx="82.25" cy="694.6" r="1.25" fill="#000"/>
<circle cx="89.23" cy="694.6" r="1.25" fill="#000"/>
<circle cx="96.21" cy="694.6" r="1.25" fill="#000"/>
<circle cx="103.19" cy="694.6" r="1.25" fill="#000"/>
<circle cx="110.17" cy="694.6" r="1.25" fill="#000"/>
<circle cx="117.16" cy="694.6" r="1.25" fill="#000"/>
<circle cx="124.14" cy="694.6" r="1.25" fill="#000"/>
<circle cx="131.12" cy="694.6" r="1.25" fill="#000"/>
<circle cx="138.1" cy="694.6" r="1.25" fill="#000"/>
<circle cx="145.09" cy="694.6" r="1.25" fill="#000"/>
<circle cx="152.07" cy="694.6" r="1.25" fill="#000"/>
<circle cx="159.05" cy="694.6" r="1.25" fill="#000"/>
<circle cx="166.03" cy="694.6" r="1.25" fill="#000"/>
<circle cx="173.01" cy="694.6" r="1.25" fill="#000"/>
<circle cx="180" cy="694.6" r="1.25" fill="#000"/>
<circle cx="186.98" cy="694.6" r="1.25" fill="#000"/>
<circle cx="193.96" cy="694.6" r="1.25" fill="#000"/>
<circle cx="200.94" cy="694.6" r="1.25" fill="#000"/>
<circle cx="207.93" cy="694.6" r="1.25" fill="#000"/>
<circle cx="214.91" cy="694.6" r="1.25" fill="#000"/>
<circle cx="221.89" cy="694.6" r="1.25" fill="#000"/>
<circle cx="228.87" cy="694.6" r="1.25" fill="#000"/>
<circle cx="235.85" cy="694.6" r="1.25" fill="#000"/>
<circle cx="242.84" cy="694.6" r="1.25" fill="#000"/>
<circle cx="249.82" cy="694.6" r="1.25" fill="#000"/>
<circle cx="256.8" cy="694.6" r="1.25" fill="#000"/>
<line x1="63.1" y1="708.85" x2="71.1" y2="708.85" stroke="#000" stroke-width="5" stroke-linecap="round"/>
<line x1="133.7" y1="708.85" x2="141.7" y2="708.85" stroke="#000" stroke-width="5" stroke-linecap="round"/>
<line x1="204.2" y1="708.85" x2="212.2" y2="708.85" stroke="#000" stroke-width="5" stroke-linecap="round"/>
<line x1="242.85" y1="708.85" x2="250.85" y2="708.85" stroke="#88a8d6" stroke-width="5" stroke-linecap="round"/>
<line x1="105.75" y1="670.8" x2="105.75" y2="704.58" stroke="#88a8d6" stroke-width="1.2"/>
<line x1="102.75" y1="670.8" x2="108.75" y2="670.8" stroke="#88a8d6" stroke-width="1.2"/>
<line x1="102.75" y1="704.58" x2="108.75" y2="704.58" stroke="#88a8d6" stroke-width="1.2"/>
<circle cx="101.45" cy="671.8" r="2.55" fill="#88a8d6"/>
<circle cx="106.75" cy="676.08" r="2.55" fill="#88a8d6"/>
<circle cx="110.15" cy="676.08" r="2.55" fill="#88a8d6"/>
<circle cx="105.75" cy="684.62" r="2.55" fill="#88a8d6"/>
<circle cx="103.55" cy="708.85" r="2.55" fill="#88a8d6"/>
<circle cx="107.75" cy="708.85" r="2.55" fill="#88a8d6"/>
<line x1="99.35" y1="687.76" x2="112.15" y2="687.76" stroke="#000" stroke-width="1.3"/>
<line x1="86.4" y1="642.59" x2="86.4" y2="701.73" stroke="#0000c8" stroke-width="1.2"/>
<line x1="83.4" y1="642.59" x2="89.4" y2="642.59" stroke="#0000c8" stroke-width="1.2"/>
<line x1="83.4" y1="701.73" x2="89.4" y2="701.73" stroke="#0000c8" stroke-width="1.2"/>
<circle cx="86.4" cy="636.89" r="2.55" fill="#0000c8"/>
<circle cx="86.4" cy="666.1" r="2.55" fill="#0000c8"/>
<circle cx="86.4" cy="676.5" r="2.55" fill="#0000c8"/>
<circle cx="86.4" cy="708.85" r="2.55" fill="#0000c8"/>
<line x1="80" y1="671.8" x2="92.8" y2="671.8" stroke="#000" stroke-width="1.3"/>
<line x1="176.4" y1="646.86" x2="176.4" y2="671.09" stroke="#88a8d6" stroke-width="1.2"/>
<line x1="173.65" y1="646.86" x2="179.15" y2="646.86" stroke="#88a8d6" stroke-width="1.2"/>
<line x1="173.65" y1="671.09" x2="179.15" y2="671.09" stroke="#88a8d6" stroke-width="1.2"/>
<circle cx="176.4" cy="641.16" r="2.55" fill="#88a8d6"/>
<circle cx="176.4" cy="647.58" r="2.55" fill="#88a8d6"/>
<circle cx="180.4" cy="658.26" r="2.55" fill="#88a8d6"/>
<circle cx="172.1" cy="661.83" r="2.55" fill="#88a8d6"/>
<circle cx="180.4" cy="669.38" r="2.55" fill="#88a8d6"/>
<circle cx="172.1" cy="672.51" r="2.55" fill="#88a8d6"/>
<line x1="169.9" y1="658.98" x2="178.9" y2="658.98" stroke="#000" stroke-width="1.3"/>
<line x1="157" y1="616.23" x2="157" y2="666.1" stroke="#0000c8" stroke-width="1.2"/>
<line x1="154.25" y1="616.23" x2="159.75" y2="616.23" stroke="#0000c8" stroke-width="1.2"/>
<line x1="154.25" y1="666.1" x2="159.75" y2="666.1" stroke="#0000c8" stroke-width="1.2"/>
<circle cx="157" cy="616.94" r="2.55" fill="#0000c8"/>
<circle cx="157" cy="627.62" r="2.55" fill="#0000c8"/>
<circle cx="157" cy="653.27" r="2.55" fill="#0000c8"/>
<circle cx="157" cy="671.09" r="2.55" fill="#0000c8"/>
<line x1="150.6" y1="641.88" x2="163.4" y2="641.88" stroke="#000" stroke-width="1.3"/>
<circle cx="223.4" cy="708.85" r="2.55" fill="#0000c8"/>
<circle cx="227.5" cy="708.85" r="2.55" fill="#0000c8"/>
<circle cx="231.8" cy="708.85" r="2.55" fill="#0000c8"/>
<path d="M67.8,629.5 V625 H86.6 V629.5" fill="none" stroke="#000" stroke-width="1.35"/>
<polygon points="77.7,619.65 78.27,621.02 79.74,621.14 78.62,622.1 78.96,623.54 77.7,622.77 76.44,623.54 76.78,622.1 75.66,621.14 77.13,621.02" fill="#000"/>
<path d="M138.2,602.1 V597.5 H176.4 V602.1" fill="none" stroke="#000" stroke-width="1.35"/>
<polygon points="156.8,591.65 157.37,593.02 158.84,593.14 157.72,594.1 158.06,595.54 156.8,594.77 155.54,595.54 155.88,594.1 154.76,593.14 156.23,593.02" fill="#000"/>
<path d="M138.2,611.4 V606.5 H157.3 V611.4" fill="none" stroke="#000" stroke-width="1.35"/>
<polygon points="146.45,601.45 147.02,602.82 148.49,602.94 147.37,603.9 147.71,605.34 146.45,604.57 145.19,605.34 145.53,603.9 144.41,602.94 145.88,602.82" fill="#000"/>
<polygon points="150.95,601.45 151.52,602.82 152.99,602.94 151.87,603.9 152.21,605.34 150.95,604.57 149.69,605.34 150.03,603.9 148.91,602.94 150.38,602.82" fill="#000"/>
<text x="65.58" y="744.6" font-size="11" letter-spacing="0.18">O-swab</text>
<text x="79.74" y="757.2" font-size="11" letter-spacing="0.35">d4</text>
<text x="136.28" y="744.6" font-size="11" letter-spacing="0.1">O-swab</text>
<text x="147.14" y="757.2" font-size="11" letter-spacing="0.13">final</text>
<text x="207.2" y="744.6" font-size="11" letter-spacing="0.16">S-swab</text>
<text x="217.84" y="757.2" font-size="11" letter-spacing="-0.02">final</text>
<text x="22.1" y="708.3" font-size="11" transform="rotate(-90 22.1 708.3)" letter-spacing="0.81">Log10 PFU/ml</text>
<circle cx="263.8" cy="663.1" r="2.55" fill="#000"/>
<circle cx="263.8" cy="674.5" r="2.55" fill="#0000c8"/>
<circle cx="263.8" cy="685.9" r="2.55" fill="#88a8d6"/>
<text x="290" y="667.2" font-size="11" letter-spacing="1.05">PBS</text>
<text x="289.88" y="678.5" font-size="11" letter-spacing="0.59">IIa</text>
<text x="289.88" y="689.5" font-size="11" letter-spacing="0.82">IIb</text>
<text x="362.46" y="582.7" font-size="19.2" font-weight="bold">h</text>
<line x1="428.4" y1="608.45" x2="428.4" y2="723.75" stroke="#000" stroke-width="1.3"/>
<line x1="419.1" y1="609.1" x2="428.4" y2="609.1" stroke="#000" stroke-width="1.3"/>
<text x="410.47" y="612.75" font-size="11" letter-spacing="0.2">6</text>
<line x1="419.1" y1="637.6" x2="428.4" y2="637.6" stroke="#000" stroke-width="1.3"/>
<text x="410.3" y="641.25" font-size="11" letter-spacing="0.2">4</text>
<line x1="419.1" y1="666.1" x2="428.4" y2="666.1" stroke="#000" stroke-width="1.3"/>
<text x="410.54" y="669.75" font-size="11" letter-spacing="0.2">2</text>
<line x1="419.1" y1="694.6" x2="428.4" y2="694.6" stroke="#000" stroke-width="1.3"/>
<text x="410.41" y="698.25" font-size="11" letter-spacing="0.2">0</text>
<line x1="419.1" y1="723.1" x2="428.4" y2="723.1" stroke="#000" stroke-width="1.3"/>
<text x="406.67" y="726.75" font-size="11" letter-spacing="0.2">-2</text>
<line x1="427.75" y1="723.1" x2="634.55" y2="723.1" stroke="#000" stroke-width="1.3"/>
<line x1="460.2" y1="723.1" x2="460.2" y2="732.4" stroke="#000" stroke-width="1.3"/>
<line x1="531.1" y1="723.1" x2="531.1" y2="732.4" stroke="#000" stroke-width="1.3"/>
<line x1="601.4" y1="723.1" x2="601.4" y2="732.4" stroke="#000" stroke-width="1.3"/>
<circle cx="435.4" cy="694.6" r="1.25" fill="#000"/>
<circle cx="442.39" cy="694.6" r="1.25" fill="#000"/>
<circle cx="449.37" cy="694.6" r="1.25" fill="#000"/>
<circle cx="456.36" cy="694.6" r="1.25" fill="#000"/>
<circle cx="463.34" cy="694.6" r="1.25" fill="#000"/>
<circle cx="470.33" cy="694.6" r="1.25" fill="#000"/>
<circle cx="477.31" cy="694.6" r="1.25" fill="#000"/>
<circle cx="484.3" cy="694.6" r="1.25" fill="#000"/>
<circle cx="491.29" cy="694.6" r="1.25" fill="#000"/>
<circle cx="498.27" cy="694.6" r="1.25" fill="#000"/>
<circle cx="505.26" cy="694.6" r="1.25" fill="#000"/>
<circle cx="512.24" cy="694.6" r="1.25" fill="#000"/>
<circle cx="519.23" cy="694.6" r="1.25" fill="#000"/>
<circle cx="526.21" cy="694.6" r="1.25" fill="#000"/>
<circle cx="533.2" cy="694.6" r="1.25" fill="#000"/>
<circle cx="540.19" cy="694.6" r="1.25" fill="#000"/>
<circle cx="547.17" cy="694.6" r="1.25" fill="#000"/>
<circle cx="554.16" cy="694.6" r="1.25" fill="#000"/>
<circle cx="561.14" cy="694.6" r="1.25" fill="#000"/>
<circle cx="568.13" cy="694.6" r="1.25" fill="#000"/>
<circle cx="575.11" cy="694.6" r="1.25" fill="#000"/>
<circle cx="582.1" cy="694.6" r="1.25" fill="#000"/>
<circle cx="589.09" cy="694.6" r="1.25" fill="#000"/>
<circle cx="596.07" cy="694.6" r="1.25" fill="#000"/>
<circle cx="603.06" cy="694.6" r="1.25" fill="#000"/>
<circle cx="610.04" cy="694.6" r="1.25" fill="#000"/>
<circle cx="617.03" cy="694.6" r="1.25" fill="#000"/>
<circle cx="624.01" cy="694.6" r="1.25" fill="#000"/>
<circle cx="631" cy="694.6" r="1.25" fill="#000"/>
<line x1="437.1" y1="708.85" x2="445.1" y2="708.85" stroke="#000" stroke-width="5" stroke-linecap="round"/>
<line x1="508" y1="708.85" x2="516" y2="708.85" stroke="#000" stroke-width="5" stroke-linecap="round"/>
<line x1="578.3" y1="708.85" x2="586.3" y2="708.85" stroke="#000" stroke-width="5" stroke-linecap="round"/>
<line x1="616.5" y1="708.85" x2="624.5" y2="708.85" stroke="#88a8d6" stroke-width="5" stroke-linecap="round"/>
<line x1="479.6" y1="676.79" x2="479.6" y2="708.85" stroke="#88a8d6" stroke-width="1.2"/>
<line x1="476.85" y1="676.79" x2="482.35" y2="676.79" stroke="#88a8d6" stroke-width="1.2"/>
<line x1="476.85" y1="708.85" x2="482.35" y2="708.85" stroke="#88a8d6" stroke-width="1.2"/>
<circle cx="475.5" cy="676.08" r="2.55" fill="#88a8d6"/>
<circle cx="480.3" cy="679.35" r="2.55" fill="#88a8d6"/>
<circle cx="483.9" cy="678.21" r="2.55" fill="#88a8d6"/>
<circle cx="475.2" cy="708.85" r="2.55" fill="#88a8d6"/>
<circle cx="479.6" cy="708.85" r="2.55" fill="#88a8d6"/>
<circle cx="483.9" cy="708.85" r="2.55" fill="#88a8d6"/>
<line x1="473.2" y1="693.89" x2="486" y2="693.89" stroke="#000" stroke-width="1.3"/>
<line x1="460.2" y1="638.31" x2="460.2" y2="661.83" stroke="#0000c8" stroke-width="1.2"/>
<line x1="457.7" y1="638.31" x2="462.7" y2="638.31" stroke="#0000c8" stroke-width="1.2"/>
<line x1="457.7" y1="661.83" x2="462.7" y2="661.83" stroke="#0000c8" stroke-width="1.2"/>
<circle cx="460.2" cy="634.75" r="2.55" fill="#0000c8"/>
<circle cx="460.2" cy="647.58" r="2.55" fill="#0000c8"/>
<circle cx="456.3" cy="658.98" r="2.55" fill="#0000c8"/>
<circle cx="464.3" cy="658.98" r="2.55" fill="#0000c8"/>
<line x1="453.8" y1="649.71" x2="466.6" y2="649.71" stroke="#000" stroke-width="1.3"/>
<line x1="550" y1="642.16" x2="550" y2="691.04" stroke="#88a8d6" stroke-width="1.2"/>
<line x1="547.25" y1="642.16" x2="552.75" y2="642.16" stroke="#88a8d6" stroke-width="1.2"/>
<line x1="547.25" y1="691.04" x2="552.75" y2="691.04" stroke="#88a8d6" stroke-width="1.2"/>
<circle cx="554.3" cy="642.59" r="2.55" fill="#88a8d6"/>
<circle cx="545.9" cy="645.44" r="2.55" fill="#88a8d6"/>
<circle cx="554.3" cy="660.4" r="2.55" fill="#88a8d6"/>
<circle cx="545.9" cy="664.68" r="2.55" fill="#88a8d6"/>
<circle cx="550" cy="678.21" r="2.55" fill="#88a8d6"/>
<circle cx="550" cy="708.85" r="2.55" fill="#88a8d6"/>
<line x1="543.6" y1="666.53" x2="556.4" y2="666.53" stroke="#000" stroke-width="1.3"/>
<line x1="531.1" y1="628.34" x2="531.1" y2="655.41" stroke="#0000c8" stroke-width="1.2"/>
<line x1="528.6" y1="628.34" x2="533.6" y2="628.34" stroke="#0000c8" stroke-width="1.2"/>
<line x1="528.6" y1="655.41" x2="533.6" y2="655.41" stroke="#0000c8" stroke-width="1.2"/>
<circle cx="535" cy="629.05" r="2.55" fill="#0000c8"/>
<circle cx="526.8" cy="632.61" r="2.55" fill="#0000c8"/>
<circle cx="531.1" cy="646.15" r="2.55" fill="#0000c8"/>
<circle cx="531.1" cy="659.69" r="2.55" fill="#0000c8"/>
<line x1="524.7" y1="641.88" x2="537.5" y2="641.88" stroke="#000" stroke-width="1.3"/>
<line x1="601.4" y1="672.51" x2="601.4" y2="718.83" stroke="#0000c8" stroke-width="1.2"/>
<line x1="598.65" y1="672.51" x2="604.15" y2="672.51" stroke="#0000c8" stroke-width="1.2"/>
<line x1="598.65" y1="718.83" x2="604.15" y2="718.83" stroke="#0000c8" stroke-width="1.2"/>
<circle cx="601.4" cy="668.95" r="2.55" fill="#0000c8"/>
<circle cx="597.3" cy="708.85" r="2.55" fill="#0000c8"/>
<circle cx="605.6" cy="708.85" r="2.55" fill="#0000c8"/>
<line x1="595" y1="695.31" x2="607.8" y2="695.31" stroke="#000" stroke-width="1.3"/>
<path d="M441.8,629.6 V624.5 H460.7 V629.6" fill="none" stroke="#000" stroke-width="1.35"/>
<polygon points="449.75,619.45 450.32,620.82 451.79,620.94 450.67,621.9 451.01,623.34 449.75,622.57 448.49,623.34 448.83,621.9 447.71,620.94 449.18,620.82" fill="#000"/>
<polygon points="454.25,619.45 454.82,620.82 456.29,620.94 455.17,621.9 455.51,623.34 454.25,622.57 452.99,623.34 453.33,621.9 452.21,620.94 453.68,620.82" fill="#000"/>
<path d="M512.5,622.3 V617.3 H531.4 V622.3" fill="none" stroke="#000" stroke-width="1.35"/>
<polygon points="520.15,612.25 520.72,613.62 522.19,613.74 521.07,614.7 521.41,616.14 520.15,615.37 518.89,616.14 519.23,614.7 518.11,613.74 519.58,613.62" fill="#000"/>
<polygon points="524.65,612.25 525.22,613.62 526.69,613.74 525.57,614.7 525.91,616.14 524.65,615.37 523.39,616.14 523.73,614.7 522.61,613.74 524.08,613.62" fill="#000"/>
<text x="439.48" y="744.6" font-size="11" letter-spacing="0.18">O-swab</text>
<text x="453.64" y="757.2" font-size="11" letter-spacing="0.35">d4</text>
<text x="510.18" y="744.6" font-size="11" letter-spacing="0.1">O-swab</text>
<text x="521.04" y="757.2" font-size="11" letter-spacing="0.13">final</text>
<text x="581.1" y="744.6" font-size="11" letter-spacing="0.16">S-swab</text>
<text x="591.74" y="757.2" font-size="11" letter-spacing="-0.02">final</text>
<text x="382.2" y="705.1" font-size="11" transform="rotate(-90 382.2 705.1)" letter-spacing="0.09">DNA (Orthopox)</text>
<text x="396.6" y="723.37" font-size="11" transform="rotate(-90 396.6 723.37)" letter-spacing="0.23">equivalent log10 PFU/ml</text>
<circle cx="634.6" cy="662.7" r="2.55" fill="#000"/>
<circle cx="634.6" cy="674.5" r="2.55" fill="#0000c8"/>
<circle cx="634.6" cy="685.7" r="2.55" fill="#88a8d6"/>
<text x="661.1" y="667" font-size="11" letter-spacing="1.05">PBS</text>
<text x="660.98" y="678.3" font-size="11" letter-spacing="0.59">IIa</text>
<text x="660.98" y="689.4" font-size="11" letter-spacing="0.82">IIb</text>
</svg>
</body></html>
